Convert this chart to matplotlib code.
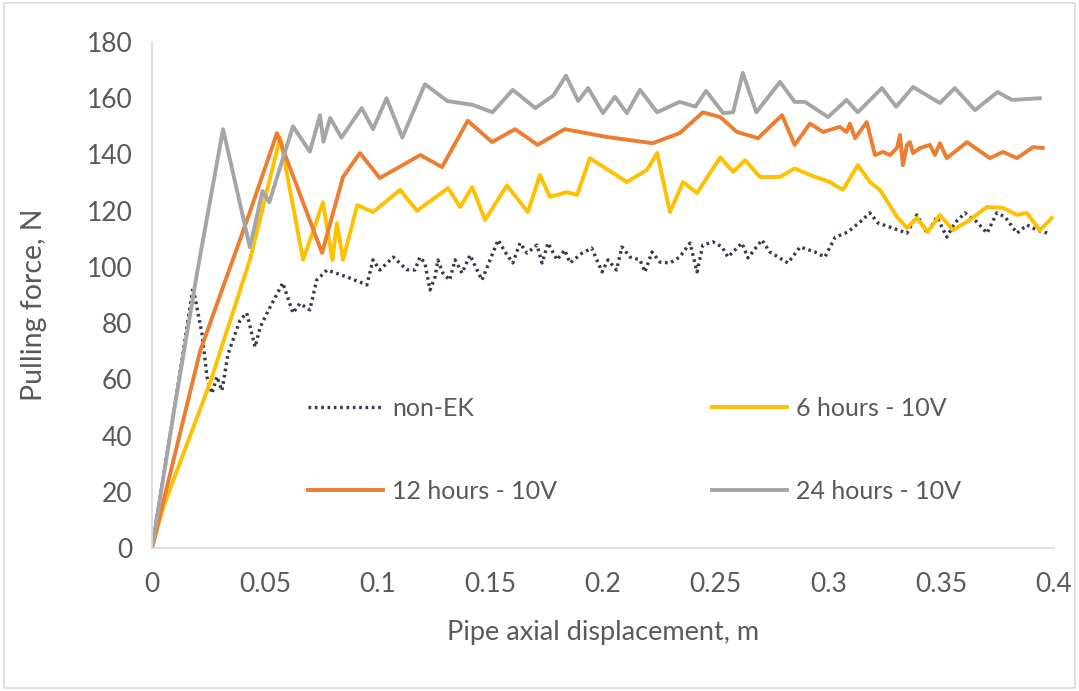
import matplotlib.pyplot as plt
from matplotlib.patches import Rectangle

plt.rcParams['font.family'] = ['Lato', 'DejaVu Sans']

# --- dados ---
x_nonek = [0, 0.01, 0.0182, 0.0222, 0.0244, 0.0266, 0.0288, 0.031, 0.0337, 0.039, 0.042, 0.0457, 0.048, 0.051,
           0.058, 0.0625, 0.0656, 0.070, 0.073, 0.0776, 0.0865, 0.0953, 0.098, 0.101, 0.107, 0.113, 0.1166,
           0.1188, 0.121, 0.1233, 0.1255, 0.1268, 0.129, 0.132, 0.1344, 0.1375, 0.141, 0.1463, 0.149, 0.1535,
           0.1566, 0.160, 0.1632, 0.1663, 0.1707, 0.173, 0.1756, 0.1796, 0.183, 0.1854, 0.1907, 0.195, 0.1996,
           0.2022, 0.206, 0.2084, 0.212, 0.2164, 0.2186, 0.2217, 0.2253, 0.2297, 0.234, 0.2386, 0.2417, 0.2443,
           0.2488, 0.2528, 0.2554, 0.2616, 0.2643, 0.2705, 0.274, 0.282, 0.2874, 0.294, 0.2984, 0.303, 0.3086,
           0.314, 0.3184, 0.322, 0.3286, 0.3348, 0.3392, 0.3437, 0.3481, 0.3525, 0.356, 0.3605, 0.3658, 0.3703,
           0.3747, 0.3783, 0.3836, 0.388, 0.3925, 0.3973]
y_nonek = [0, 50, 92.8, 76, 60.8, 55, 61, 56, 69, 81, 83.6, 71.5, 78.6, 83.6,
           94.3, 83.6, 87, 84.7, 95.3, 98.9, 96.4, 93.6, 102.5, 98.9, 103.5, 99, 98.9,
           103.5, 101.4, 91.8, 96.4, 102.5, 97.8, 95.3, 102.5, 97.8, 104.2, 95.3, 100.7, 109.6,
           105.3, 101.4, 108.5, 104.9, 107.8, 101.4, 108.5, 102.5, 106, 101.4, 104.9, 106.7, 98.2,
           102.5, 98.9, 107.1, 103.5, 102.5, 98.2, 105.3, 101.7, 101.4, 103.5, 108.5, 98.2, 107.8,
           108.9, 107.1, 103.5, 108.5, 103.2, 109.6, 105.3, 101.4, 107.1, 105.3, 103.5, 110.6, 112.4,
           116, 119.2, 115.6, 113.8, 112, 118.5, 112, 117.8, 110.6, 115.6, 119.2, 116, 112,
           119.2, 117.8, 112, 114.9, 113.1, 112]

x_6h = [0, 0.005, 0.0257, 0.0434, 0.0568, 0.067, 0.0758, 0.080, 0.082, 0.0847, 0.091, 0.098, 0.110, 0.1175,
        0.1313, 0.1366, 0.142, 0.1477, 0.1574, 0.1667, 0.172, 0.1765, 0.184, 0.1885, 0.1942, 0.2106, 0.2195,
        0.224, 0.2297, 0.2355, 0.2417, 0.252, 0.2577, 0.263, 0.2696, 0.2785, 0.285, 0.2918, 0.3006, 0.3064,
        0.313, 0.3184, 0.3228, 0.3304, 0.3348, 0.3392, 0.344, 0.3494, 0.3552, 0.3627, 0.3702, 0.3774, 0.3836,
        0.388, 0.3937, 0.399]
y_6h = [0, 14.6, 58.7, 102.5, 146, 102.5, 123, 102.5, 115.6, 102.5, 122, 119.5, 127.4, 120,
        128, 121.3, 128.4, 116.7, 129, 119.5, 132.7, 124.9, 126.6, 125.6, 138.7, 130.2, 134.5,
        140.5, 119.5, 130.2, 126.3, 139, 133.8, 138, 132, 132, 135, 132.7, 130.2, 127.4,
        136.2, 130.2, 127.4, 117.8, 113.8, 117.4, 112.4, 118.5, 113.1, 116.7, 121.3, 121, 118.5,
        119.2, 113, 117.4]

x_12h = [0, 0.0213, 0.0434, 0.0554, 0.0754, 0.0847, 0.0922, 0.101, 0.119, 0.1286, 0.140, 0.1508, 0.161,
         0.171, 0.183, 0.2018, 0.222, 0.234, 0.2443, 0.252, 0.2594, 0.2688, 0.2794, 0.285, 0.2918, 0.2976,
         0.305, 0.308, 0.3095, 0.3118, 0.317, 0.3206, 0.3242, 0.3273, 0.3304, 0.3317, 0.333, 0.3348, 0.3361,
         0.3375, 0.3406, 0.345, 0.3472, 0.3494, 0.3525, 0.3614, 0.3716, 0.3774, 0.3836, 0.3907, 0.395]
y_12h = [0, 70, 119.5, 147.6, 105, 132, 140.5, 131.6, 139.8, 135.5, 152, 144.4, 149,
         143.4, 149, 146.2, 144, 147.6, 155, 153.3, 148, 145.8, 154, 143.4, 151, 148,
         149.8, 148, 151, 145.8, 151.5, 139.8, 140.9, 139.8, 142.3, 146.9, 136.2, 143.4, 144.4,
         140.5, 142.3, 143.4, 139.8, 144, 138.7, 144.4, 138.7, 140.9, 138.7, 142.6, 142.3]

x_24h = [0, 0.01, 0.02, 0.0315, 0.0434, 0.049, 0.052, 0.0625, 0.070, 0.0745, 0.076, 0.079, 0.084, 0.093,
         0.098, 0.104, 0.111, 0.121, 0.131, 0.1424, 0.151, 0.160, 0.170, 0.178, 0.1836, 0.189, 0.1934, 0.200,
         0.2053, 0.2106, 0.2164, 0.224, 0.234, 0.241, 0.2457, 0.2533, 0.2577, 0.262, 0.268, 0.2785, 0.285,
         0.2896, 0.2998, 0.308, 0.313, 0.3237, 0.330, 0.3375, 0.3494, 0.356, 0.365, 0.375, 0.3814, 0.3937]
y_24h = [0, 50, 98, 149, 107, 127, 123, 150, 141, 154, 144.5, 153, 146, 156.5,
         149, 160, 146, 165, 159, 157.6, 155, 163, 156.5, 161, 168, 159, 163.6, 154.7,
         160.5, 154.7, 163, 155, 158.7, 157, 162.6, 154.7, 155, 169, 155, 165.8, 158.7,
         158.7, 153.3, 159.4, 155, 163.6, 157, 164, 158.3, 163.6, 155.8, 162.2, 159.4, 160]

x_ticks = [0, 0.05, 0.1, 0.15, 0.2, 0.25, 0.3, 0.35, 0.4]
x_tick_labels = ['0', '0.05', '0.1', '0.15', '0.2', '0.25', '0.3', '0.35', '0.4']
y_ticks = [0, 20, 40, 60, 80, 100, 120, 140, 160, 180]

cor_texto = '#595959'
cor_eixo = '#D9D9D9'

fig = plt.figure(figsize=(10.79, 6.91), dpi=100)
ax = fig.add_axes([0.1409, 0.2069, 0.8359, 0.7323])

# moldura externa (estilo Excel)
fig.patches.append(Rectangle((4 / 1079, 3 / 691), 1071 / 1079, 685 / 691, transform=fig.transFigure,
                             fill=False, edgecolor=cor_eixo, linewidth=1.2))

l1, = ax.plot(x_nonek, y_nonek, color='#353B4C', linewidth=2.4, linestyle=(0, (0.8, 1.1)), label='non-EK')
l2, = ax.plot(x_6h, y_6h, color='#FFC000', linewidth=2.8, solid_joinstyle='round', label='6 hours - 10V')
l3, = ax.plot(x_12h, y_12h, color='#ED7D31', linewidth=2.8, solid_joinstyle='round', label='12 hours - 10V')
l4, = ax.plot(x_24h, y_24h, color='#A5A5A5', linewidth=2.8, solid_joinstyle='round', label='24 hours - 10V')

ax.set_xlim(0, 0.4)
ax.set_ylim(0, 180)
ax.set_xticks(x_ticks)
ax.set_xticklabels(x_tick_labels)
ax.set_yticks(y_ticks)
ax.tick_params(length=0, labelsize=19, labelcolor=cor_texto)
ax.tick_params(axis='x', pad=17)
ax.tick_params(axis='y', pad=14)

for lado in ['top', 'right']:
    ax.spines[lado].set_visible(False)
for lado in ['left', 'bottom']:
    ax.spines[lado].set_color(cor_eixo)
    ax.spines[lado].set_linewidth(1.2)

ax.set_xlabel('Pipe axial displacement, m', fontsize=19.5, color=cor_texto)
ax.set_ylabel('Pulling force, N', fontsize=20.5, color=cor_texto)
ax.xaxis.set_label_coords(0.5, -0.142)
ax.yaxis.set_label_coords(-0.117, 0.48)

leg = ax.legend([l1, l3, l2, l4], ['non-EK', '12 hours - 10V', '6 hours - 10V', '24 hours - 10V'],
                ncol=2, frameon=False, fontsize=18, labelcolor=cor_texto,
                loc='center', bbox_to_anchor=(0.535, 0.194), handlelength=3.0, handletextpad=0.35,
                columnspacing=6.2, labelspacing=2.4)

plt.savefig('out.png', dpi=100)
